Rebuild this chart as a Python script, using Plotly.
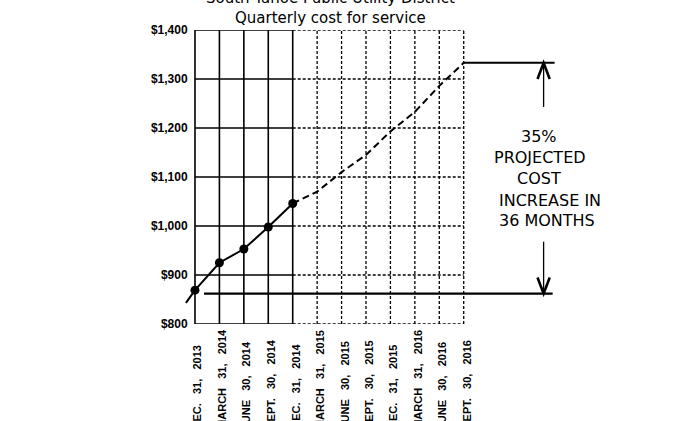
import plotly.graph_objects as go

# ---- data ----
quarters = ["DEC. 31, 2013", "MARCH 31, 2014", "JUNE 30, 2014", "SEPT. 30, 2014",
            "DEC. 31, 2014", "MARCH 31, 2015", "JUNE 30, 2015", "SEPT. 30, 2015",
            "DEC. 31, 2015", "MARCH 31, 2016", "JUNE 30, 2016", "SEPT. 30, 2016"]
actual_cost = [869, 925, 953, 998, 1046]            # quarters 0..4 (solid, markers)
projected_cost = [1046, 1070, 1110, 1145, 1193, 1233, 1286, 1333]   # quarters 4..11 (dashed)
lead_in_x = [-0.37]                                # trend line continues left of first quarter
lead_in_cost = [843]
baseline_cost = 862
y_ticks = [800, 900, 1000, 1100, 1200, 1300, 1400]
y_tick_labels = ["$800", "$900", "$1,000", "$1,100", "$1,200", "$1,300", "$1,400"]
note_lines = ["35%", "PROJECTED", "COST", "INCREASE IN", "36 MONTHS"]

# ---- geometry ----
W, H = 680, 421
XL, XR = -0.45, 14.9
PPU = 269 / 11.0
ml = 195 - (0 - XL) * PPU
plot_w = (XR - XL) * PPU
mr = W - ml - plot_w
mt = 30
plot_h = 294
mb = H - mt - plot_h

n = len(quarters)
n_act = len(actual_cost)
last_act = n_act - 1
x_act = list(range(n_act))
x_proj = list(range(last_act, n))

fig = go.Figure()

# grid as shapes (solid for actual part, dotted for projected part)
shapes = []
solid = dict(color="black", width=1.6)
dotted = dict(color="black", width=1.3, dash="3px,2px")
for i in range(n):
    shapes.append(dict(type="line", xref="x", yref="y", x0=i, x1=i,
                       y0=y_ticks[0], y1=y_ticks[-1],
                       line=solid if i <= last_act else dotted, layer="below"))
for v in y_ticks:
    shapes.append(dict(type="line", xref="x", yref="y", x0=0, x1=last_act, y0=v, y1=v,
                       line=solid, layer="below"))
    shapes.append(dict(type="line", xref="x", yref="y", x0=last_act, x1=n - 1, y0=v, y1=v,
                       line=dotted, layer="below"))

# baseline and top reference lines
AX = 14.27
shapes.append(dict(type="line", xref="x", yref="y", x0=0.37, x1=14.64,
                   y0=baseline_cost, y1=baseline_cost, line=dict(color="black", width=2.4)))
shapes.append(dict(type="line", xref="x", yref="y", x0=n - 1, x1=14.72,
                   y0=projected_cost[-1], y1=projected_cost[-1], line=dict(color="black", width=2)))
# arrows
top = projected_cost[-1]
shapes.append(dict(type="line", xref="x", yref="y", x0=AX, x1=AX, y0=top, y1=1243,
                   line=dict(color="black", width=1.3)))
shapes.append(dict(type="path", xref="x", yref="y",
                   path=f"M {AX-0.25},{top-33} L {AX},{top} L {AX+0.25},{top-33}",
                   line=dict(color="black", width=2.6)))
shapes.append(dict(type="line", xref="x", yref="y", x0=AX, x1=AX, y0=968, y1=baseline_cost,
                   line=dict(color="black", width=1.3)))
shapes.append(dict(type="path", xref="x", yref="y",
                   path=f"M {AX-0.25},{baseline_cost+33} L {AX},{baseline_cost} L {AX+0.25},{baseline_cost+33}",
                   line=dict(color="black", width=2.6)))

# traces
fig.add_trace(go.Scatter(x=lead_in_x + x_act, y=lead_in_cost + actual_cost, mode="lines",
                         line=dict(color="black", width=2), hoverinfo="skip", showlegend=False))
fig.add_trace(go.Scatter(x=x_proj, y=projected_cost, mode="lines",
                         line=dict(color="black", width=2, dash="7px,4px"),
                         showlegend=False))
fig.add_trace(go.Scatter(x=x_act, y=actual_cost, mode="markers",
                         marker=dict(color="black", size=9), showlegend=False, cliponaxis=False))

# annotations
ann = []
ann.append(dict(text="South Tahoe Public Utility District<br>Quarterly cost for service",
                xref="x", yref="paper", x=(n - 1) / 2 + 0.05, y=1, yshift=1,
                xanchor="center", yanchor="bottom", showarrow=False,
                font=dict(family="DejaVu Sans", size=15, color="black")))
nb = "\u00a0" * 3
for i, q in enumerate(quarters):
    ann.append(dict(text=q.replace(" ", nb), xref="x", yref="paper", x=i,
                    y=-(431 - 324) / plot_h, xanchor="center", yanchor="bottom",
                    textangle=-90, xshift=2.5, showarrow=False,
                    font=dict(family="Liberation Sans", size=11, color="black", weight="bold")))
note_x = [13.25, 12.15, 13.11, 12.35, 12.35]
note_y = [1182, 1139, 1097, 1053, 1012]
for t, xx, yy in zip(note_lines, note_x, note_y):
    ann.append(dict(text=t, xref="x", yref="y", x=xx, y=yy, xanchor="left", yanchor="middle",
                    showarrow=False, font=dict(family="DejaVu Sans", size=16, color="black")))

fig.update_layout(
    width=W, height=H,
    margin=dict(l=ml, r=mr, t=mt, b=mb, pad=0),
    paper_bgcolor="white", plot_bgcolor="white",
    shapes=shapes, annotations=ann,
    xaxis=dict(range=[XL, XR], showgrid=False, zeroline=False, showline=False,
               showticklabels=False, ticks=""),
    yaxis=dict(range=[y_ticks[0], y_ticks[-1]], tickvals=y_ticks, ticktext=y_tick_labels,
               anchor="free", position=(0 - XL) / (XR - XL), side="left",
               showgrid=False, zeroline=False, showline=False,
               ticks="outside", ticklen=5, tickcolor="rgba(0,0,0,0)",
               tickfont=dict(family="Liberation Sans", size=12, color="black", weight="bold")),
    showlegend=False,
)

fig.write_html("out.html", config={"displayModeBar": False},
               post_script="document.body.style.margin='0';")
